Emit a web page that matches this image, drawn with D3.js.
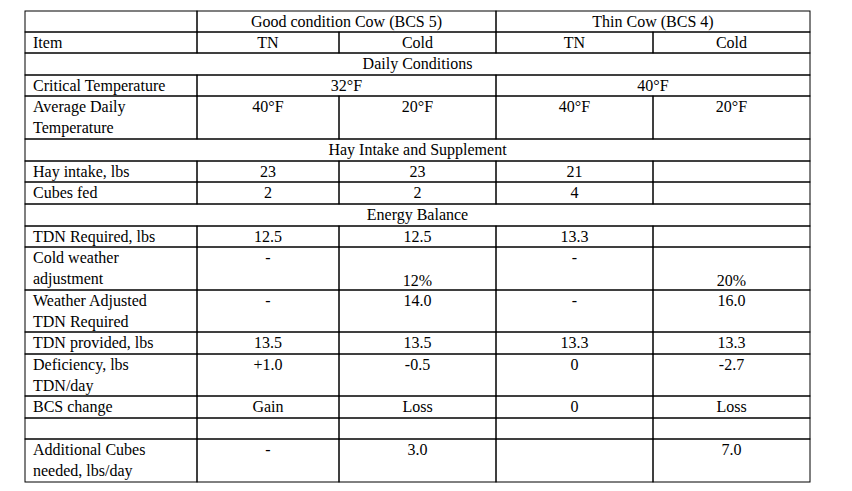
<!DOCTYPE html>
<html><head><meta charset="utf-8">
<script src="https://cdn.jsdelivr.net/npm/d3@7"></script>
<style>body{margin:0;background:#fff} text{font-family:"Liberation Serif","Times New Roman",Tinos,"DejaVu Serif",serif;}</style></head>
<body><svg id="c" width="852" height="491"></svg>
<script>
// data
const groups = ["Good condition Cow (BCS 5)", "Thin Cow (BCS 4)"];
const conditions = ["TN", "Cold", "TN", "Cold"];
const sections = ["Daily Conditions", "Hay Intake and Supplement", "Energy Balance"];
const items = ["Critical Temperature","Average Daily|Temperature","Hay intake, lbs","Cubes fed","TDN Required, lbs","Cold weather|adjustment","Weather Adjusted|TDN Required","TDN provided, lbs","Deficiency, lbs|TDN/day","BCS change","","Additional Cubes|needed, lbs/day"];
const goodTN   = ["32°F","40°F","23","2","12.5","-","-","13.5","+1.0","Gain","","-"];
const goodCold = ["","20°F","23","2","12.5","12%","14.0","13.5","-0.5","Loss","","3.0"];
const thinTN   = ["40°F","40°F","21","4","13.3","-","-","13.3","0","0","",""];
const thinCold = ["","20°F","","","","20%","16.0","13.3","-2.7","Loss","","7.0"];

// layout
const xs = [25,197,339,496,653,810];
const rowsY = [11,32,53,75,96,139,161,182,204,226,247,290,332,354,396,418,439,482];
const svg = d3.select("#c");
const lh = 21;

function cell(x0,x1,y0,y1,text,align,valign){
  svg.append("rect").attr("x",x0).attr("y",y0).attr("width",x1-x0).attr("height",y1-y0)
    .attr("fill","none").attr("stroke","#000").attr("stroke-width",1);
  if(!text) return;
  const lines = text.split("|");
  const t = svg.append("text").attr("font-size",16).attr("fill","#000")
    .attr("text-anchor", align==="left"?"start":"middle");
  const tx = align==="left"? x0+8 : (x0+x1)/2;
  const startY = valign==="bottom" ? y1-4-(lines.length-1)*lh : y0+16;
  lines.forEach((l,i)=>t.append("tspan").attr("x",tx).attr("y",startY+i*lh).text(l));
}
cell(xs[0],xs[1],rowsY[0],rowsY[1],"");
groups.forEach((g,i)=>cell(xs[1+2*i],xs[3+2*i],rowsY[0],rowsY[1],g,"center"));
cell(xs[0],xs[1],rowsY[1],rowsY[2],"Item","left");
conditions.forEach((c,i)=>cell(xs[1+i],xs[2+i],rowsY[1],rowsY[2],c,"center"));
const sectionBefore = {0:0,2:1,4:2};
let r = 2;
items.forEach((it,i)=>{
  if(sectionBefore[i]!==undefined){
    cell(xs[0],xs[5],rowsY[r],rowsY[r+1],sections[sectionBefore[i]],"center"); r++;
  }
  const y0=rowsY[r], y1=rowsY[r+1];
  cell(xs[0],xs[1],y0,y1,it,"left");
  const vals=[goodTN[i],goodCold[i],thinTN[i],thinCold[i]];
  const vb = it.startsWith("Cold weather");
  if(i===0){
    cell(xs[1],xs[3],y0,y1,vals[0],"center");
    cell(xs[3],xs[5],y0,y1,vals[2],"center");
  } else {
    vals.forEach((v,j)=>cell(xs[1+j],xs[2+j],y0,y1,v,"center", vb&&(j%2===1)?"bottom":"top"));
  }
  r++;
});
</script></body></html>
